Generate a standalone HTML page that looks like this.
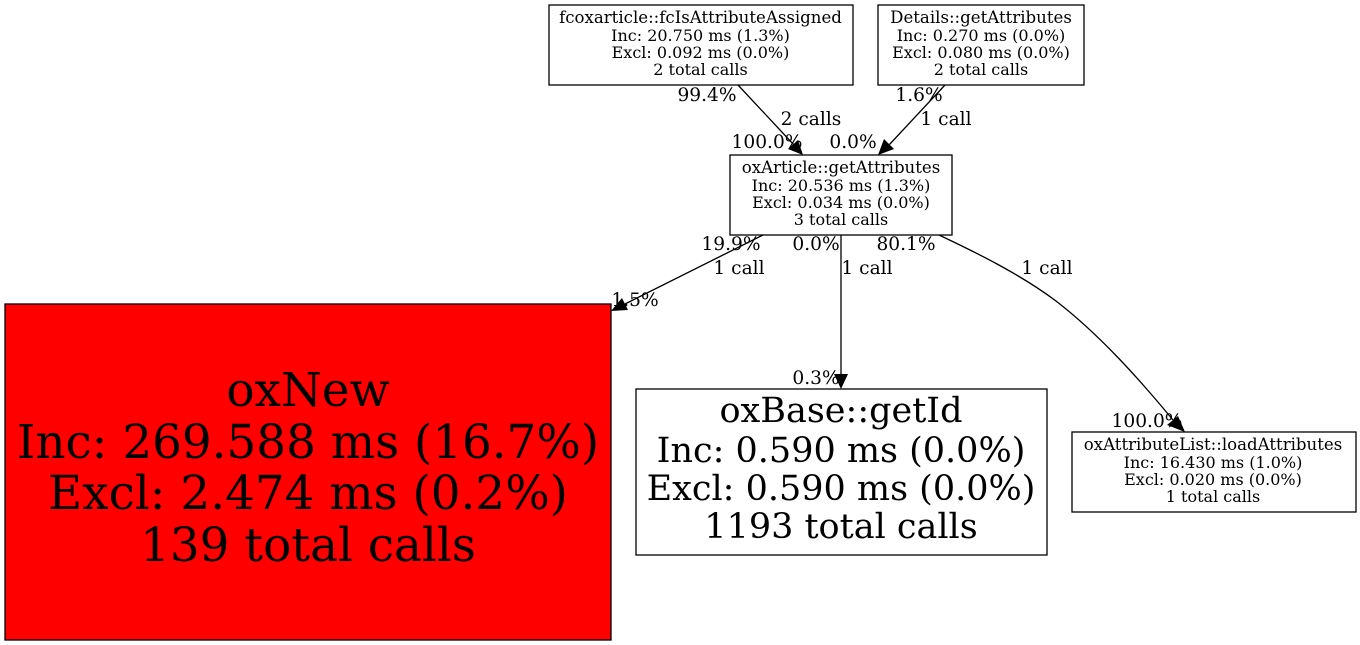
<!DOCTYPE html>
<html><head><meta charset="utf-8"><style>
html,body{margin:0;padding:0;background:#fff;width:1360px;height:645px;overflow:hidden}
svg{display:block}
text{font-family:"DejaVu Serif",serif;fill:#000;text-anchor:middle}
.s{font-size:16px}
.n{font-size:16.6px}
.e{font-size:18.6px}
.m{font-size:35px}
.l{font-size:46.8px}
rect{stroke:#000;stroke-width:1.3}
path.c{fill:none;stroke:#000;stroke-width:1.3}
</style></head><body>
<svg width="1360" height="645" viewBox="0 0 1360 645" xmlns="http://www.w3.org/2000/svg">
<rect x="549" y="5" width="304" height="80" fill="#fff"/>
<text class="n" x="700.5" y="23">fcoxarticle::fcIsAttributeAssigned</text>
<text class="s" x="700.5" y="41">Inc: 20.750 ms (1.3%)</text>
<text class="s" x="700.5" y="58">Excl: 0.092 ms (0.0%)</text>
<text class="s" x="700.5" y="75">2 total calls</text>
<rect x="878" y="5" width="206" height="80" fill="#fff"/>
<text class="n" x="981" y="23">Details::getAttributes</text>
<text class="s" x="981" y="41">Inc: 0.270 ms (0.0%)</text>
<text class="s" x="981" y="58">Excl: 0.080 ms (0.0%)</text>
<text class="s" x="981" y="75">2 total calls</text>
<rect x="730" y="155" width="222" height="80" fill="#fff"/>
<text class="n" x="841" y="173">oxArticle::getAttributes</text>
<text class="s" x="841" y="191">Inc: 20.536 ms (1.3%)</text>
<text class="s" x="841" y="208">Excl: 0.034 ms (0.0%)</text>
<text class="s" x="841" y="225">3 total calls</text>
<rect x="5" y="304" width="606" height="336" fill="#f00"/>
<text class="l" x="308" y="406">oxNew</text>
<text class="l" x="308" y="458">Inc: 269.588 ms (16.7%)</text>
<text class="l" x="308" y="509">Excl: 2.474 ms (0.2%)</text>
<text class="l" x="308" y="561">139 total calls</text>
<rect x="636" y="389" width="411" height="166" fill="#fff"/>
<text class="m" x="841" y="422">oxBase::getId</text>
<text class="m" x="841" y="462">Inc: 0.590 ms (0.0%)</text>
<text class="m" x="841" y="500">Excl: 0.590 ms (0.0%)</text>
<text class="m" x="841" y="538">1193 total calls</text>
<rect x="1072" y="432" width="284" height="80" fill="#fff"/>
<text class="n" x="1213" y="450">oxAttributeList::loadAttributes</text>
<text class="s" x="1213" y="468">Inc: 16.430 ms (1.0%)</text>
<text class="s" x="1213" y="485">Excl: 0.020 ms (0.0%)</text>
<text class="s" x="1213" y="502">1 total calls</text>
<path class="c" d="M738 85L794 145"/>
<polygon points="803,155 798,140 788,149" fill="#000"/>
<path class="c" d="M945 85L889 145"/>
<polygon points="878,155 894,149 884,139" fill="#000"/>
<path class="c" d="M763 235L625 304"/>
<polygon points="611,311 628,310 622,298" fill="#000"/>
<path class="c" d="M841 235V376"/>
<polygon points="841,389 848,374 834,374" fill="#000"/>
<path class="c" d="M939 235C975 252 1020 274 1056 301C1100 335 1140 380 1173 420"/>
<polygon points="1185,432 1178,416 1167,425" fill="#000"/>
<text class="e" x="707" y="101">99.4%</text>
<text class="e" x="811" y="125">2 calls</text>
<text class="e" x="767" y="148">100.0%</text>
<text class="e" x="853" y="148">0.0%</text>
<text class="e" x="919" y="101">1.6%</text>
<text class="e" x="946" y="125">1 call</text>
<text class="e" x="731" y="250">19.9%</text>
<text class="e" x="816" y="250">0.0%</text>
<text class="e" x="906" y="250">80.1%</text>
<text class="e" x="739" y="274">1 call</text>
<text class="e" x="867" y="274">1 call</text>
<text class="e" x="1047" y="274">1 call</text>
<text class="e" x="635" y="306">1.5%</text>
<text class="e" x="816" y="384">0.3%</text>
<text class="e" x="1147" y="427">100.0%</text>
</svg>
</body></html>
